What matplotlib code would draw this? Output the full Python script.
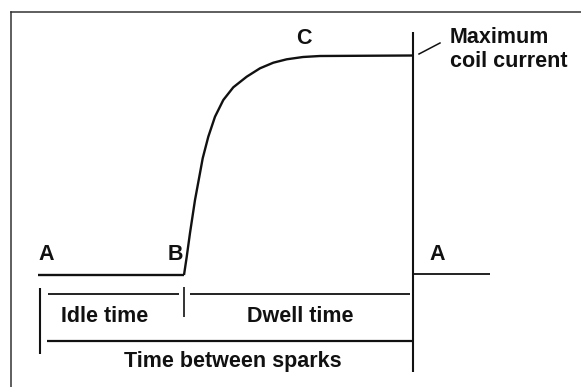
import matplotlib
matplotlib.use("Agg")
import matplotlib.pyplot as plt

# Coil current trace (drawing units: x to the right, y downward)
idle_x = [38, 184]
idle_y = [275, 275]
rise_x = [184, 186.7, 190, 195, 200, 202.7, 208.3, 215, 223.3, 233.3, 246.7, 260, 273.3, 286.7, 303, 320, 413]
rise_y = [275, 257, 233, 200, 173, 158.3, 136.7, 116.7, 100, 87.3, 76.7, 68.3, 62.7, 59.3, 57, 56, 55.5]
next_x = [413, 490]
next_y = [274, 274]

# Point labels: (text, x, baseline y)
point_labels = [("A", 46.5, 259.5), ("B", 175, 259.5), ("C", 303.5, 44), ("A", 437.5, 259.5)]

# Timing brackets
idle_span = [48, 179]
dwell_span = [190, 410]
total_span = [47, 413]
bracket_y = 294
total_y = 341
span_labels = [("Idle time", 105, 322), ("Dwell time", 300, 322.5), ("Time between sparks", 232.5, 367.5)]

W, H = 581, 387
fig = plt.figure(figsize=(W / 100, H / 100), dpi=100)
ax = fig.add_axes([0, 0, 1, 1])
ax.set_xlim(0, W)
ax.set_ylim(H, 0)
ax.axis("off")

font = dict(family=["Liberation Sans", "DejaVu Sans"], fontweight="bold", fontsize=15.5, color="#111111")

# Outer frame (top and left edges)
ax.plot([10.7, W + 5], [11.7, 11.7], color="#333333", lw=1.1)
ax.plot([10.7, 10.7], [11.7, H + 5], color="#333333", lw=1.1)

# Current trace
ax.plot(idle_x, idle_y, color="#111111", lw=1.7, solid_capstyle="butt", solid_joinstyle="miter")
ax.plot(rise_x, rise_y, color="#111111", lw=1.7, solid_capstyle="butt", solid_joinstyle="round")
ax.plot(next_x, next_y, color="#111111", lw=1.3, solid_capstyle="butt")

# Spark marker line
ax.plot([413, 413], [32, 372], color="#111111", lw=1.5, solid_capstyle="butt")

# Leader to the maximum-current note
ax.plot([419, 440], [54, 43], color="#111111", lw=1.1)
ax.text(450, 43.3, "Maximum", ha="left", va="baseline", **font)
ax.text(450, 66.7, "coil current", ha="left", va="baseline", **font)

for txt, x, y in point_labels:
    ax.text(x, y, txt, ha="center", va="baseline", **font)

# Brackets
ax.plot([40, 40], [288, 354], color="#111111", lw=1.5, solid_capstyle="butt")
ax.plot([184, 184], [287, 317], color="#111111", lw=1.2, solid_capstyle="butt")
ax.plot(idle_span, [bracket_y, bracket_y], color="#111111", lw=1.3, solid_capstyle="butt")
ax.plot(dwell_span, [bracket_y, bracket_y], color="#111111", lw=1.3, solid_capstyle="butt")
ax.plot(total_span, [total_y, total_y], color="#111111", lw=1.6, solid_capstyle="butt")

for txt, x, y in span_labels:
    ax.text(x, y, txt, ha="center", va="baseline", **font)

fig.savefig("out.png", dpi=100, facecolor="white")
